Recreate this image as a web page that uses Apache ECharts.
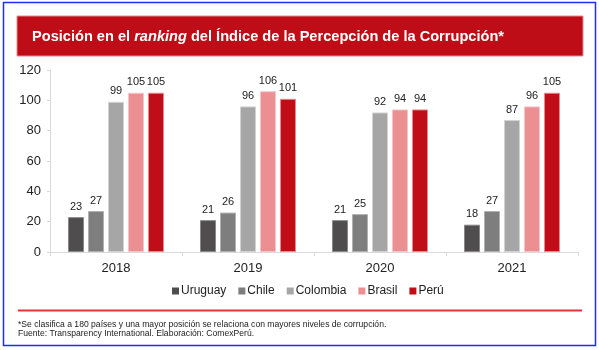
<!DOCTYPE html>
<html>
<head>
<meta charset="utf-8">
<script src="https://cdn.jsdelivr.net/npm/echarts@6/dist/echarts.min.js"></script>
<style>html,body{margin:0;padding:0;background:#fff}#c{width:599px;height:350px}</style>
</head>
<body>
<div id="c"></div>
<script>
const years = ['2018', '2019', '2020', '2021'];
const uruguay = [23, 21, 21, 18];
const chile = [27, 26, 25, 27];
const colombia = [99, 96, 92, 87];
const brasil = [105, 106, 94, 96];
const peru = [105, 101, 94, 105];
const yTicks = [0, 20, 40, 60, 80, 100, 120];

const seriesDefs = [
  { name: 'Uruguay', data: uruguay, color: '#4f4d4e', border: '#8a8889' },
  { name: 'Chile', data: chile, color: '#7e7e7e', border: '#b0b0b0' },
  { name: 'Colombia', data: colombia, color: '#a6a6a6', border: '#d2d2d2' },
  { name: 'Brasil', data: brasil, color: '#ec8f93', border: '#f6c4c6' },
  { name: 'Perú', data: peru, color: '#c00d17', border: '#e9878c' }
];

const chart = echarts.init(document.getElementById('c'), null, { renderer: 'canvas' });
const font = 'Liberation Sans, Arial, sans-serif';

chart.setOption({
  animation: false,
  backgroundColor: '#fff',
  textStyle: { fontFamily: font },
  grid: { left: 50, right: 21, top: 70, bottom: 98, containLabel: false },
  legend: {
    top: 280,
    left: 167,
    itemWidth: 7,
    itemHeight: 7,
    itemGap: 12,
    icon: 'rect',
    itemStyle: { borderWidth: 0 },
    textStyle: { fontSize: 12, color: '#222', fontFamily: font, padding: [0, 0, 0, -3] },
    data: seriesDefs.map(s => s.name)
  },
  xAxis: {
    type: 'category',
    data: years,
    axisLine: { lineStyle: { color: '#d9d9d9', width: 1 } },
    axisTick: { show: true, length: 4, lineStyle: { color: '#d9d9d9' } },
    axisLabel: { fontSize: 13, color: '#222', margin: 10, fontFamily: font }
  },
  yAxis: {
    type: 'value',
    min: yTicks[0],
    max: yTicks[yTicks.length - 1],
    interval: 20,
    splitLine: { show: false },
    axisLine: { show: true, lineStyle: { color: '#d9d9d9' } },
    axisTick: { show: true, length: 3, lineStyle: { color: '#d9d9d9' } },
    axisLabel: { fontSize: 13, color: '#222', margin: 9, fontFamily: font }
  },
  series: seriesDefs.map(s => ({
    name: s.name,
    type: 'bar',
    data: s.data,
    barWidth: 16,
    barGap: '25%',
    itemStyle: { color: s.color, borderColor: s.border, borderWidth: 1 },
    label: { show: true, position: 'top', distance: 5, fontSize: 11, color: '#222', fontFamily: font }
  })),
  graphic: [
    { type: 'rect', shape: { x: 3.5, y: 2.5, width: 592, height: 343 }, style: { fill: 'none', stroke: '#1f2ef0', lineWidth: 1.5 }, z: 10 },
    { type: 'rect', shape: { x: 17, y: 16, width: 566, height: 40 }, style: { fill: '#bf0d17', stroke: '#e58a8f', lineWidth: 1 } },
    {
      type: 'text', left: 32, top: 29, z: 20,
      style: {
        text: '{b|Posición en el }{i|ranking}{b| del Índice de la Percepción de la Corrupción*}',
        rich: {
          b: { fontSize: 14.6, fontWeight: 'bold', fill: '#fff', fontFamily: font },
          i: { fontSize: 14.6, fontWeight: 'bold', fontStyle: 'italic', fill: '#fff', fontFamily: font }
        }
      }
    },
    { type: 'line', shape: { x1: 18, y1: 310.5, x2: 582, y2: 310.5 }, style: { stroke: '#e2343e', lineWidth: 2 } },
    { type: 'text', left: 18, top: 320, style: { text: '*Se clasifica a 180 países y una mayor posición se relaciona con mayores niveles de corrupción.', fontSize: 8.6, fill: '#222', fontFamily: font } },
    { type: 'text', left: 18, top: 329, style: { text: 'Fuente: Transparency International. Elaboración: ComexPerú.', fontSize: 8.6, fill: '#222', fontFamily: font } }
  ]
});
</script>
</body>
</html>
